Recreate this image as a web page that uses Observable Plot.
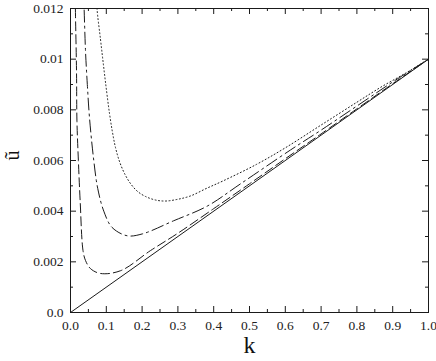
<!DOCTYPE html>
<html><head><meta charset="utf-8">
<script src="https://cdn.jsdelivr.net/npm/d3@7"></script>
<script src="https://cdn.jsdelivr.net/npm/@observablehq/plot@0.6"></script>
<style>
html,body{margin:0;padding:0;background:#fff}
#chart svg, #chart svg text{font-family:"Liberation Serif","DejaVu Serif","Times New Roman",serif !important}
</style></head><body><div id="chart"></div>
<script>
// Series (k, ũ)
const kSolid = [0, 1];
const uSolid = [0, 0.01];

const kDashed = [0.0132, 0.014, 0.0168, 0.018, 0.022, 0.027, 0.035, 0.042, 0.056, 0.084, 0.14, 0.223, 0.3, 0.4, 0.5, 0.6, 0.7, 0.8, 0.9, 1.0];
const uDashed = [0.0125, 0.0117, 0.00953, 0.00756, 0.006, 0.0044, 0.00244, 0.00205, 0.00173, 0.00154, 0.00165, 0.00244, 0.00313, 0.0041, 0.00508, 0.00607, 0.00705, 0.00804, 0.00903, 0.01];

const kDashDot = [0.036, 0.038, 0.042, 0.047, 0.053, 0.065, 0.076, 0.093, 0.116, 0.158, 0.2, 0.288, 0.382, 0.475, 0.615, 0.7, 0.8, 0.9, 1.0];
const uDashDot = [0.0128, 0.012, 0.0103, 0.009, 0.0077, 0.006, 0.0049, 0.004, 0.00336, 0.00303, 0.0031, 0.00362, 0.0042, 0.00508, 0.00642, 0.0072, 0.00815, 0.0091, 0.01];

const kDotted = [0.072, 0.074, 0.0838, 0.0922, 0.1006, 0.1089, 0.1173, 0.1257, 0.1369, 0.1508, 0.1676, 0.1872, 0.2095, 0.2374, 0.2654, 0.3, 0.335, 0.38, 0.427, 0.52, 0.6, 0.7, 0.8, 0.87, 0.94, 1.0];
const uDotted = [0.0127, 0.012, 0.01078, 0.00975, 0.00876, 0.00786, 0.00711, 0.00651, 0.00596, 0.00549, 0.00509, 0.00478, 0.00458, 0.00444, 0.0044, 0.00447, 0.0046, 0.0049, 0.0052, 0.00585, 0.0065, 0.0074, 0.0083, 0.00892, 0.00948, 0.01];

// Axes
const xTicks = [0, 0.1, 0.2, 0.3, 0.4, 0.5, 0.6, 0.7, 0.8, 0.9, 1.0];
const xTickLabels = ["0.0", "0.1", "0.2", "0.3", "0.4", "0.5", "0.6", "0.7", "0.8", "0.9", "1.0"];
const xMinor = [0.05, 0.15, 0.25, 0.35, 0.45, 0.55, 0.65, 0.75, 0.85, 0.95];
const yTicks = [0, 0.002, 0.004, 0.006, 0.008, 0.01, 0.012];
const yTickLabels = ["0.0", "0.002", "0.004", "0.006", "0.008", "0.01", "0.012"];
const yMinor = [0.001, 0.003, 0.005, 0.007, 0.009, 0.011];
const xLabel = "k";
const yLabel = "ũ";

const rows = (ks, us) => ks.map((k, i) => ({k, u: us[i]}));

const W = 436, H = 361, mL = 70, mR = 8, mT = 8, mB = 49;
const innerW = W - mL - mR, innerH = H - mT - mB;
const ink = "#1a1a1a";
const serif = "'Liberation Serif', 'DejaVu Serif', 'Times New Roman', serif";
const lineOpts = {x: "k", y: "u", stroke: ink, strokeWidth: 1, curve: "catmull-rom", clip: true};

const chart = Plot.plot({
  width: W, height: H,
  marginLeft: mL, marginRight: mR, marginTop: mT, marginBottom: mB,
  x: {domain: [0, 1]},
  y: {domain: [0, 0.012]},
  style: {fontFamily: serif, fontSize: "13.5px", color: "#222", background: "#fff"},
  marks: [
    Plot.line(rows(kSolid, uSolid), {...lineOpts}),
    Plot.line(rows(kDashed, uDashed), {...lineOpts, strokeDasharray: "9,4"}),
    Plot.line(rows(kDashDot, uDashDot), {...lineOpts, strokeDasharray: "12,4,2,4"}),
    Plot.line(rows(kDotted, uDotted), {...lineOpts, strokeDasharray: "1,2.5"}),
    // inward ticks on all four sides
    Plot.tickX(xTicks, {x: d => d, insetTop: innerH - 6, stroke: ink}),
    Plot.tickX(xTicks, {x: d => d, insetBottom: innerH - 6, stroke: ink}),
    Plot.tickX(xMinor, {x: d => d, insetTop: innerH - 3, stroke: ink}),
    Plot.tickX(xMinor, {x: d => d, insetBottom: innerH - 3, stroke: ink}),
    Plot.tickY(yTicks, {y: d => d, insetRight: innerW - 6, stroke: ink}),
    Plot.tickY(yTicks, {y: d => d, insetLeft: innerW - 6, stroke: ink}),
    Plot.tickY(yMinor, {y: d => d, insetRight: innerW - 3, stroke: ink}),
    Plot.tickY(yMinor, {y: d => d, insetLeft: innerW - 3, stroke: ink}),
    Plot.axisX({ticks: xTicks, tickSize: 0, tickPadding: 8, label: null, fontFamily: serif,
      tickFormat: d => xTickLabels[xTicks.indexOf(d)]}),
    Plot.axisY({ticks: yTicks, tickSize: 0, tickPadding: 7, label: null, fontFamily: serif,
      tickFormat: d => yTickLabels[yTicks.indexOf(d)]}),
    Plot.frame({stroke: ink, strokeWidth: 1}),
    Plot.text([xLabel], {text: d => d, frameAnchor: "bottom", dy: 40, fontSize: 24, fontFamily: serif, fill: "#111"}),
    Plot.text([yLabel], {text: d => d, frameAnchor: "left", dx: -58, rotate: -90, fontSize: 20, fontFamily: serif, fill: "#111"})
  ]
});
document.getElementById("chart").appendChild(chart);
</script>
</body></html>
